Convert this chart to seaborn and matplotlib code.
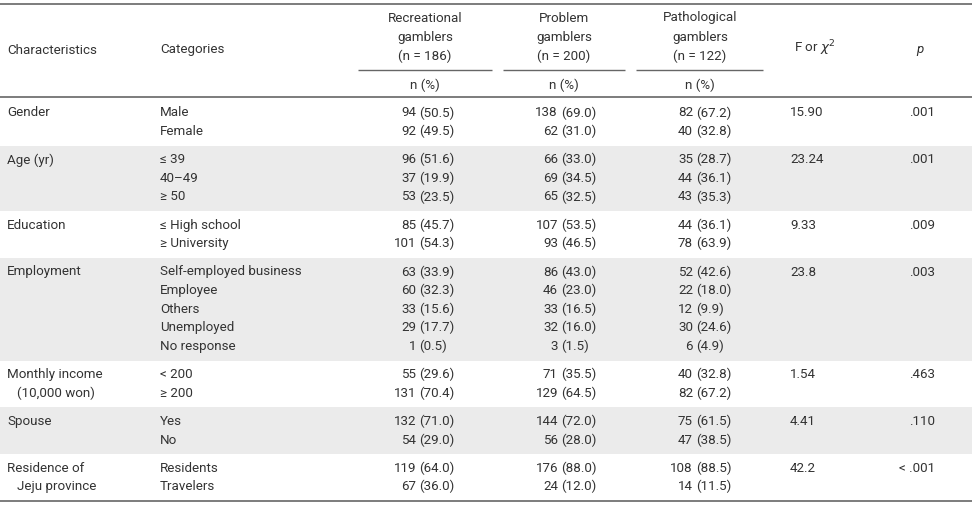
import matplotlib
matplotlib.use("Agg")
import matplotlib.pyplot as plt
import seaborn as sns

# table content
characteristics = ["Gender", "Age (yr)", "Education", "Employment",
                   "Monthly income", "Spouse", "Residence of"]
characteristics_2nd = ["", "", "", "", "(10,000 won)", "", "Jeju province"]
categories = [
    ["Male", "Female"],
    ["≤ 39", "40–49", "≥ 50"],
    ["≤ High school", "≥ University"],
    ["Self-employed business", "Employee", "Others", "Unemployed", "No response"],
    ["< 200", "≥ 200"],
    ["Yes", "No"],
    ["Residents", "Travelers"],
]
rec_n = [[94, 92], [96, 37, 53], [85, 101], [63, 60, 33, 29, 1], [55, 131], [132, 54], [119, 67]]
rec_pct = [[50.5, 49.5], [51.6, 19.9, 23.5], [45.7, 54.3], [33.9, 32.3, 15.6, 17.7, 0.5],
           [29.6, 70.4], [71.0, 29.0], [64.0, 36.0]]
prob_n = [[138, 62], [66, 69, 65], [107, 93], [86, 46, 33, 32, 3], [71, 129], [144, 56], [176, 24]]
prob_pct = [[69.0, 31.0], [33.0, 34.5, 32.5], [53.5, 46.5], [43.0, 23.0, 16.5, 16.0, 1.5],
            [35.5, 64.5], [72.0, 28.0], [88.0, 12.0]]
path_n = [[82, 40], [35, 44, 43], [44, 78], [52, 22, 12, 30, 6], [40, 82], [75, 47], [108, 14]]
path_pct = [[67.2, 32.8], [28.7, 36.1, 35.3], [36.1, 63.9], [42.6, 18.0, 9.9, 24.6, 4.9],
            [32.8, 67.2], [61.5, 38.5], [88.5, 11.5]]
f_stat = ["15.90", "23.24", "9.33", "23.8", "1.54", "4.41", "42.2"]
p_values = [".001", ".001", ".009", ".003", ".463", ".110", "< .001"]

group_names = ["Recreational", "Problem", "Pathological"]
group_sizes = [186, 200, 122]

sns.set_theme(style="white")
plt.rcParams['font.family'] = ['Roboto', 'DejaVu Sans']
plt.rcParams['mathtext.fontset'] = 'dejavusans'

TXT = "#333333"
RULE = "#666666"
BAND = "#ebebeb"
FS = 9.6

fig = plt.figure(figsize=(9.75, 5.05), dpi=100)
ax = fig.add_axes([0, 0, 1, 1])
ax.set_xlim(0, 975)
ax.set_ylim(505, 0)
ax.axis("off")

# header
group_cx = [425, 564, 700]
group_span = [(358, 492), (503, 625), (636, 763)]
ax.text(7, 50, "Characteristics", fontsize=FS, color=TXT, va="center")
ax.text(160, 50, "Categories", fontsize=FS, color=TXT, va="center")
for name, size, cx, (x0, x1) in zip(group_names, group_sizes, group_cx, group_span):
    ax.text(cx, 18, name, fontsize=FS, color=TXT, ha="center", va="center")
    ax.text(cx, 37, "gamblers", fontsize=FS, color=TXT, ha="center", va="center")
    ax.text(cx, 56, f"(n = {size})", fontsize=FS, color=TXT, ha="center", va="center")
    ax.text(cx, 85, "n (%)", fontsize=FS, color=TXT, ha="center", va="center")
    ax.hlines(70, x0, x1, color=RULE, lw=1.0)
ax.text(815, 48, r"F or $\chi^2$", fontsize=FS, color=TXT, ha="center", va="center")
ax.text(920, 50, "p", fontsize=FS, color=TXT, ha="center", va="center", style="italic")

ax.hlines(4, 0, 972, color=RULE, lw=1.2)
ax.hlines(97, 0, 972, color=RULE, lw=1.2)
ax.hlines(501, 0, 972, color=RULE, lw=1.2)

# body
line_h = 18.6
gap = 9.6
paren_x = [419, 561, 696]
y0 = 113
band_top = 97
for g in range(len(characteristics)):
    n_lines = len(categories[g])
    last = y0 + (n_lines - 1) * line_h
    next_first = last + line_h + gap
    band_bot = 501 if g == len(characteristics) - 1 else (last + next_first) / 2
    if g % 2 == 1:
        ax.axhspan(band_top, band_bot, xmin=0, xmax=972 / 975, color=BAND, lw=0, zorder=0)
    ax.text(7, y0, characteristics[g], fontsize=FS, color=TXT, va="center")
    if characteristics_2nd[g]:
        ax.text(17, y0 + line_h, characteristics_2nd[g], fontsize=FS, color=TXT, va="center")
    ax.text(790, y0, f_stat[g], fontsize=FS, color=TXT, va="center")
    ax.text(935, y0, p_values[g], fontsize=FS, color=TXT, va="center", ha="right")
    for i in range(n_lines):
        y = y0 + i * line_h
        ax.text(160, y, categories[g][i], fontsize=FS, color=TXT, va="center")
        for px, ns, ps in zip(paren_x, [rec_n, prob_n, path_n], [rec_pct, prob_pct, path_pct]):
            ax.text(px - 3, y, str(ns[g][i]), fontsize=FS, color=TXT, va="center", ha="right")
            ax.text(px, y, f"({ps[g][i]:.1f})", fontsize=FS, color=TXT, va="center", ha="left")
    band_top = band_bot
    y0 = next_first

fig.savefig("out.png", dpi=100)
